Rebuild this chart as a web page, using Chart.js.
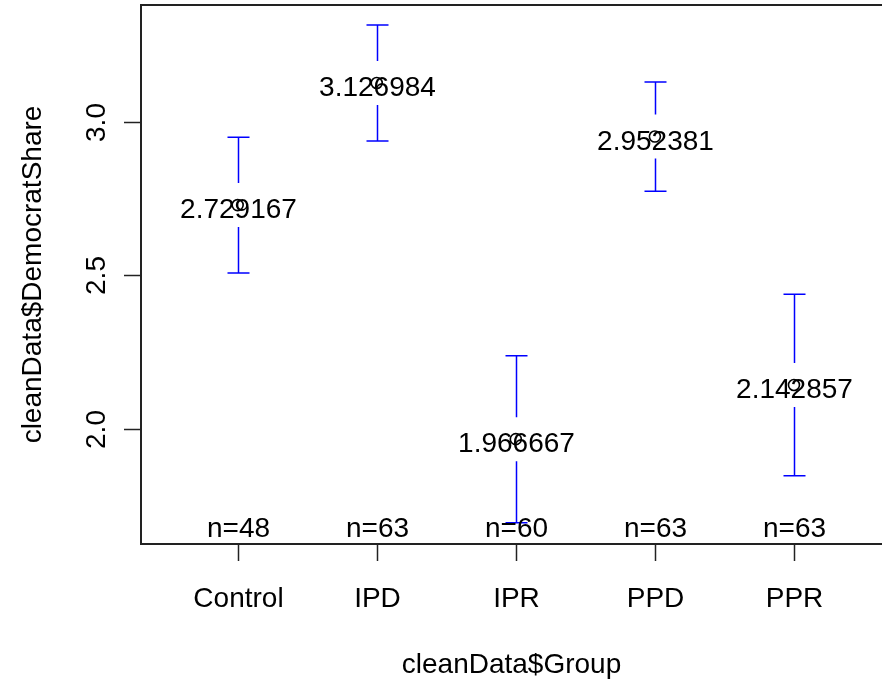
<!DOCTYPE html>
<html>
<head>
  <title>plotmeans: DemocratShare by Group</title>
  <script src="https://cdn.jsdelivr.net/npm/chart.js"></script>
  <style>
    html, body { margin: 0; padding: 0; background: #fff; overflow: hidden; }
  </style>
</head>
<body>
  <canvas id="meansChart" width="882" height="687"></canvas>

  <script>
    // values
    const categories = ['Control', 'IPD', 'IPR', 'PPD', 'PPR'];
    const means = [2.729167, 3.126984, 1.966667, 2.952381, 2.142857];
    const ciLower = [2.508, 2.938, 1.694, 2.774, 1.847];
    const ciUpper = [2.950, 3.316, 2.238, 3.130, 2.439];
    const counts = [48, 63, 60, 63, 63];
    const yTicks = [2.0, 2.5, 3.0];

    const FONT = '28px "Liberation Sans", Arial, sans-serif';

    // R-style axes, error bars and labels, all placed through the chart scales
    const rPlot = {
      id: 'rPlot',
      beforeDatasetsDraw(chart) {
        const ctx = chart.ctx;
        const x = chart.scales.x, y = chart.scales.y;
        const gap = 22;
        const cap = 11;

        ctx.save();
        ctx.strokeStyle = '#0000ff';
        ctx.lineWidth = 1.5;
        categories.forEach((c, i) => {
          const px = Math.round(x.getPixelForValue(i + 1)) + 0.5;
          const pm = y.getPixelForValue(means[i]);
          const pu = y.getPixelForValue(ciUpper[i]);
          const pl = y.getPixelForValue(ciLower[i]);
          ctx.beginPath();
          ctx.moveTo(px, pu); ctx.lineTo(px, Math.max(pu, pm - gap));
          ctx.moveTo(px, Math.min(pl, pm + gap)); ctx.lineTo(px, pl);
          ctx.moveTo(px - cap, pu); ctx.lineTo(px + cap, pu);
          ctx.moveTo(px - cap, pl); ctx.lineTo(px + cap, pl);
          ctx.stroke();
        });
        ctx.restore();
      },
      afterDatasetsDraw(chart) {
        const ctx = chart.ctx;
        const x = chart.scales.x, y = chart.scales.y;
        const area = chart.chartArea;

        ctx.save();
        // box (no right edge, it sits off the picture)
        ctx.strokeStyle = '#222';
        ctx.lineWidth = 2;
        ctx.beginPath();
        ctx.moveTo(chart.width, area.top);
        ctx.lineTo(area.left, area.top);
        ctx.lineTo(area.left, area.bottom);
        ctx.lineTo(chart.width, area.bottom);
        ctx.stroke();

        ctx.lineWidth = 1.5;
        ctx.fillStyle = '#000';
        ctx.font = FONT;

        // x ticks and labels
        ctx.textAlign = 'center';
        ctx.textBaseline = 'alphabetic';
        categories.forEach((c, i) => {
          const px = Math.round(x.getPixelForValue(i + 1)) + 0.5;
          ctx.beginPath();
          ctx.moveTo(px, area.bottom);
          ctx.lineTo(px, area.bottom + 17);
          ctx.stroke();
          ctx.fillText(c, px, 607);
          // group sizes
          ctx.fillText('n=' + counts[i], px, area.bottom - 7);
          // mean value labels
          ctx.fillText(String(means[i]), px, y.getPixelForValue(means[i]) + 13);
        });

        // y ticks and rotated labels
        yTicks.forEach(v => {
          const py = Math.round(y.getPixelForValue(v)) + 0.5;
          ctx.beginPath();
          ctx.moveTo(area.left, py);
          ctx.lineTo(area.left - 17, py);
          ctx.stroke();
          ctx.save();
          ctx.translate(105, py);
          ctx.rotate(-Math.PI / 2);
          ctx.fillText(v.toFixed(1), 0, 0);
          ctx.restore();
        });

        // axis titles
        ctx.fillText('cleanData$Group', (area.left + chart.width) / 2, 673);
        ctx.save();
        ctx.translate(41, (area.top + area.bottom) / 2);
        ctx.rotate(-Math.PI / 2);
        ctx.fillText('cleanData$DemocratShare', 0, 0);
        ctx.restore();

        ctx.restore();
      }
    };

    new Chart(document.getElementById('meansChart'), {
      type: 'scatter',
      data: {
        datasets: [{
          data: means.map((m, i) => ({ x: i + 1, y: m })),
          pointStyle: 'circle',
          pointRadius: 5.5,
          pointHoverRadius: 5.5,
          borderColor: '#000',
          borderWidth: 1.6,
          backgroundColor: 'rgba(0,0,0,0)',
        }],
      },
      options: {
        responsive: false,
        animation: false,
        layout: { autoPadding: false, padding: { left: 141, top: 5, right: 0, bottom: 143 } },
        plugins: { legend: { display: false }, tooltip: { enabled: false } },
        scales: {
          x: { type: 'linear', min: 0.305, max: 5.633, display: false },
          y: { type: 'linear', min: 1.625, max: 3.381, display: false },
        },
      },
      plugins: [rPlot],
    });
  </script>
</body>
</html>
